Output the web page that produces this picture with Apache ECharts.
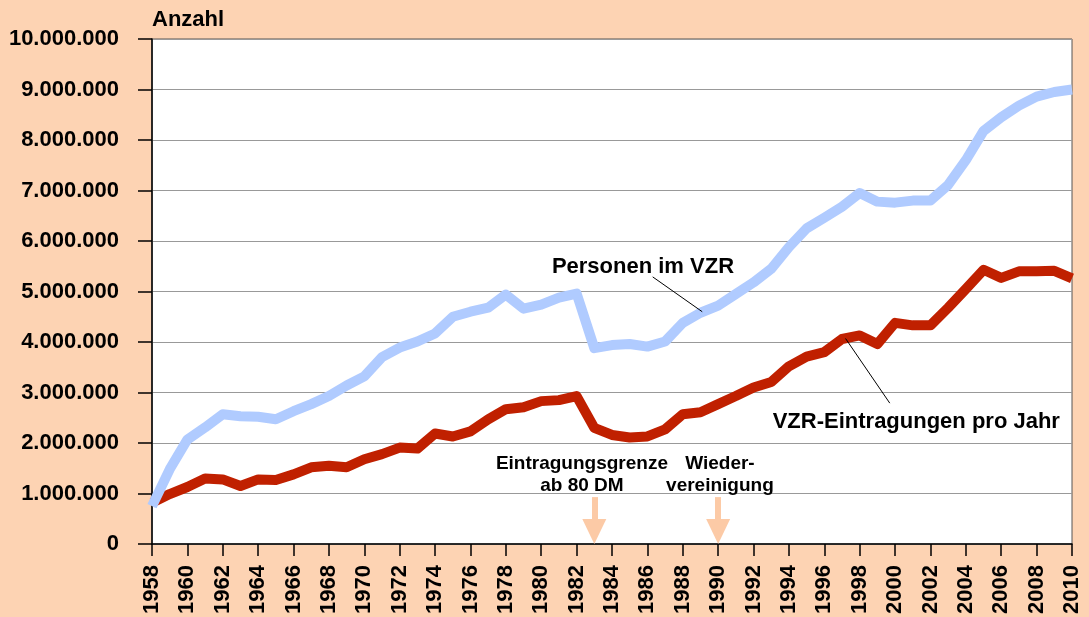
<!DOCTYPE html>
<html>
<head>
<meta charset="utf-8">
<script src="https://cdn.jsdelivr.net/npm/echarts@6/dist/echarts.min.js"></script>
<style>
  html, body { margin: 0; padding: 0; background: #fdd3b3; }
  #chart { width: 1089px; height: 617px; }
</style>
</head>
<body>
<div id="chart"></div>
<script>
// Jahre 1958 - 2010
const years = [];
for (let y = 1958; y <= 2010; y++) years.push(y);

// Personen im VZR (Anzahl)
const personen = [
  750000, 1480000, 2070000, 2310000, 2570000, 2530000, 2520000, 2470000, 2630000, 2770000,
  2930000, 3140000, 3320000, 3700000, 3890000, 4010000, 4170000, 4500000, 4600000, 4680000,
  4940000, 4660000, 4740000, 4880000, 4960000, 3880000, 3940000, 3960000, 3910000, 4010000,
  4380000, 4580000, 4720000, 4950000, 5180000, 5450000, 5880000, 6250000, 6460000, 6680000,
  6950000, 6780000, 6760000, 6800000, 6800000, 7110000, 7600000, 8180000, 8450000, 8680000,
  8860000, 8950000, 9000000
];

// VZR-Eintragungen pro Jahr
const eintragungen = [
  820000, 990000, 1130000, 1300000, 1280000, 1150000, 1280000, 1270000, 1380000, 1520000,
  1550000, 1520000, 1680000, 1780000, 1910000, 1890000, 2190000, 2130000, 2230000, 2470000,
  2670000, 2710000, 2830000, 2850000, 2930000, 2300000, 2160000, 2110000, 2130000, 2270000,
  2570000, 2610000, 2770000, 2930000, 3100000, 3210000, 3520000, 3710000, 3800000, 4060000,
  4130000, 3960000, 4380000, 4330000, 4330000, 4680000, 5050000, 5430000, 5270000, 5400000,
  5400000, 5410000, 5260000
];

const yTicks = { min: 0, max: 10000000, step: 1000000 };
const xTicks = { min: 1958, max: 2010, step: 2 };

// Ereignisse (Jahr, Beschriftung)
const events = [
  { year: 1983, textYear: 1982.3, text: 'Eintragungsgrenze\nab 80 DM' },
  { year: 1990, textYear: 1990.1, text: 'Wieder-\nvereinigung' }
];

const fmtDE = v => String(v).replace(/\B(?=(\d{3})+(?!\d))/g, '.');
const pairs = arr => years.map((y, i) => [y, arr[i]]);

const FONT = '"Liberation Sans", Arial, sans-serif';
const PEACH = '#fccaa6';

const chart = echarts.init(document.getElementById('chart'));

chart.setOption({
  animation: false,
  backgroundColor: '#fdd3b3',
  textStyle: { fontFamily: FONT },
  grid: {
    left: 152, right: 17, top: 39, bottom: 72,
    show: true, backgroundColor: '#fff', borderColor: '#555', borderWidth: 1
  },
  xAxis: {
    type: 'value',
    min: xTicks.min, max: xTicks.max, interval: xTicks.step,
    axisLine: { lineStyle: { color: '#000', width: 1.5 } },
    axisTick: { length: 12, lineStyle: { color: '#000', width: 1.5 } },
    axisLabel: {
      rotate: 90, margin: 21, color: '#000', fontWeight: 'bold', fontSize: 22,
      fontFamily: FONT, formatter: v => String(v)
    },
    splitLine: { show: false }
  },
  yAxis: {
    type: 'value',
    min: yTicks.min, max: yTicks.max, interval: yTicks.step,
    name: 'Anzahl',
    nameLocation: 'end',
    nameGap: 8,
    nameTextStyle: {
      color: '#000', fontWeight: 'bold', fontSize: 22, fontFamily: FONT,
      align: 'left', verticalAlign: 'bottom'
    },
    axisLine: { show: true, lineStyle: { color: '#000', width: 1.5 } },
    axisTick: { show: true, length: 14, lineStyle: { color: '#000', width: 1.5 } },
    axisLabel: {
      margin: 33, color: '#000', fontWeight: 'bold', fontSize: 22,
      fontFamily: FONT, formatter: v => fmtDE(v)
    },
    splitLine: { lineStyle: { color: '#999', width: 1 } }
  },
  series: [
    {
      name: 'VZR-Eintragungen pro Jahr',
      type: 'line',
      data: pairs(eintragungen),
      showSymbol: false,
      clip: false,
      lineStyle: { color: '#c02000', width: 10, join: 'round' },
      z: 3,
      markLine: {
        silent: true,
        symbol: ['none', 'triangle'],
        symbolSize: [24, 25],
        symbolRotate: 180,
        lineStyle: { color: PEACH, width: 6, type: 'solid' },
        label: { show: false },
        data: events.map(e => [
          { coord: [e.year, 930000] },
          { coord: [e.year, 250000] }
        ])
      }
    },
    {
      name: 'Personen im VZR',
      type: 'line',
      data: pairs(personen),
      showSymbol: false,
      clip: false,
      lineStyle: { color: '#b0cbff', width: 10, join: 'round' },
      z: 4
    }
  ]
});

// Beschriftungen in Datenkoordinaten
const labels = [
  { at: [1985.75, 5490000], text: 'Personen im VZR', from: [1986.3, 5290000], to: [1989.1, 4600000] },
  { at: [2001.2, 2420000], text: 'VZR-Eintragungen pro Jahr', from: [1997.2, 4070000], to: [1999.7, 2790000] }
];

const px = p => chart.convertToPixel({ gridIndex: 0 }, p);
const graphics = [];
labels.forEach(l => {
  const c = px(l.at), a = px(l.from), b = px(l.to);
  graphics.push({
    type: 'text', x: c[0], y: c[1], z: 10,
    style: {
      text: l.text, fill: '#000', font: 'bold 22px ' + FONT,
      textAlign: 'center', textVerticalAlign: 'middle'
    }
  });
  graphics.push({
    type: 'line', z: 10,
    shape: { x1: a[0], y1: a[1], x2: b[0], y2: b[1] },
    style: { stroke: '#000', lineWidth: 1 }
  });
});
events.forEach(e => {
  const c = px([e.textYear, 1380000]);
  graphics.push({
    type: 'text', x: c[0], y: c[1], z: 10,
    style: {
      text: e.text, fill: '#000', font: 'bold 19px ' + FONT,
      textAlign: 'center', textVerticalAlign: 'middle', lineHeight: 22
    }
  });
});
chart.setOption({ graphic: graphics });

window.onresize = function () {
  chart.resize();
};
</script>
</body>
</html>
